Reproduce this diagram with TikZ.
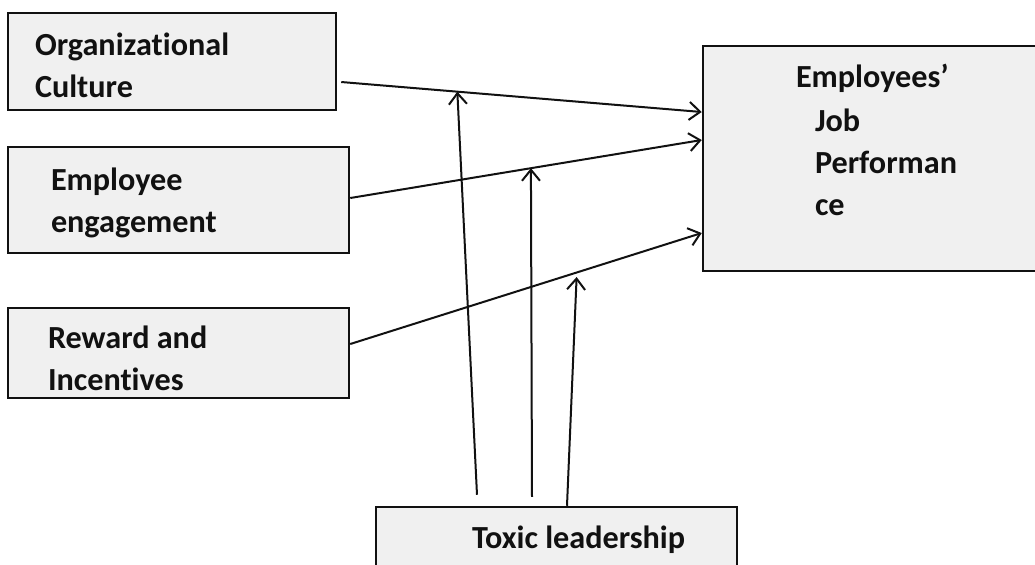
\documentclass[tikz,border=0pt]{standalone}
\usepackage{fontspec}
\setmainfont[Ligatures=NoCommon]{Carlito}
\usetikzlibrary{arrows.meta, positioning, calc}
\definecolor{boxgray}{HTML}{F0F0F0}
\definecolor{ink}{HTML}{111111}

\begin{document}
\begin{tikzpicture}[x=0.5pt, y=-0.5pt, >={Straight Barb[length=5.5pt, width=9pt]}, line width=1pt,
  box/.style={draw=ink, fill=boxgray, line width=1.25pt, inner sep=0pt},
  lbl/.style={font=\bfseries\fontsize{16.1}{21}\selectfont, text=ink, anchor=base west, inner sep=0pt, align=left},
  link/.style={->, draw=ink, line width=1pt}]

% Canvas
\useasboundingbox (0,0) rectangle (1035,564);
\clip (0,0) rectangle (1035,564);

% Boxes
\node[box, minimum width=164pt, minimum height=48.5pt] (orgcult) at (172,61.5) {};
\node[box, minimum width=170.5pt, minimum height=53pt] (engage) at (178.5,200) {};
\node[box, minimum width=170.5pt, minimum height=45pt] (reward) at (178.5,353) {};
\node[box, minimum width=171pt, minimum height=112.5pt] (jobperf) at (874,158.5) {};
\node[box, minimum width=180.5pt, minimum height=36.5pt] (toxic) at (556.5,543.5) {};

% Labels (base = last line)
\node[lbl] (orgcult-txt) at (34,97) {Organizational\\Culture};
\node[lbl] (engage-txt) at (50,232) {Employee\\engagement};
\node[lbl] (reward-txt) at (47,390) {Reward and\\Incentives};
\node[lbl] (jobperf-txt) at (795,87) {Employees’};
\node[lbl] (jobperf-txt2) at (814,215) {Job\\Performan\\ce};
\node[lbl] (toxic-txt) at (471,548) {Toxic leadership};

% Ends of the links
\coordinate (oc-out) at ($(orgcult.east)+(4,20.5)$);
\coordinate (ee-out) at ($(engage.east)+(0,-2)$);
\coordinate (rw-out) at ($(reward.east)+(0,-9)$);
\coordinate (jp-in1) at ($(jobperf.west)+(0,-46.5)$);
\coordinate (jp-in2) at ($(jobperf.west)+(0,-18.5)$);
\coordinate (jp-in3) at ($(jobperf.west)+(0,74.5)$);

% Predictors to performance
\draw[link] (oc-out) -- (jp-in1);
\draw[link] (ee-out) -- (jp-in2);
\draw[link] (rw-out) -- (jp-in3);

% Moderating links from toxic leadership
\coordinate (tx-1) at ($(toxic.north)+(-79.5,-11)$);
\coordinate (tx-2) at ($(toxic.north)+(-24.5,-9)$);
\coordinate (tx-3) at ($(toxic.north)+(10.5,0)$);
\coordinate (hit-1) at ($(oc-out)!0.322!(jp-in1)$);
\coordinate (hit-2) at ($(ee-out)!0.514!(jp-in2)$);
\coordinate (hit-3) at ($(rw-out)!0.644!(jp-in3)+(0,4.5)$);
\draw[link] (tx-1) -- (hit-1);
\draw[link] (tx-2) -- (hit-2);
\draw[link] (tx-3) -- (hit-3);

\end{tikzpicture}
\end{document}
